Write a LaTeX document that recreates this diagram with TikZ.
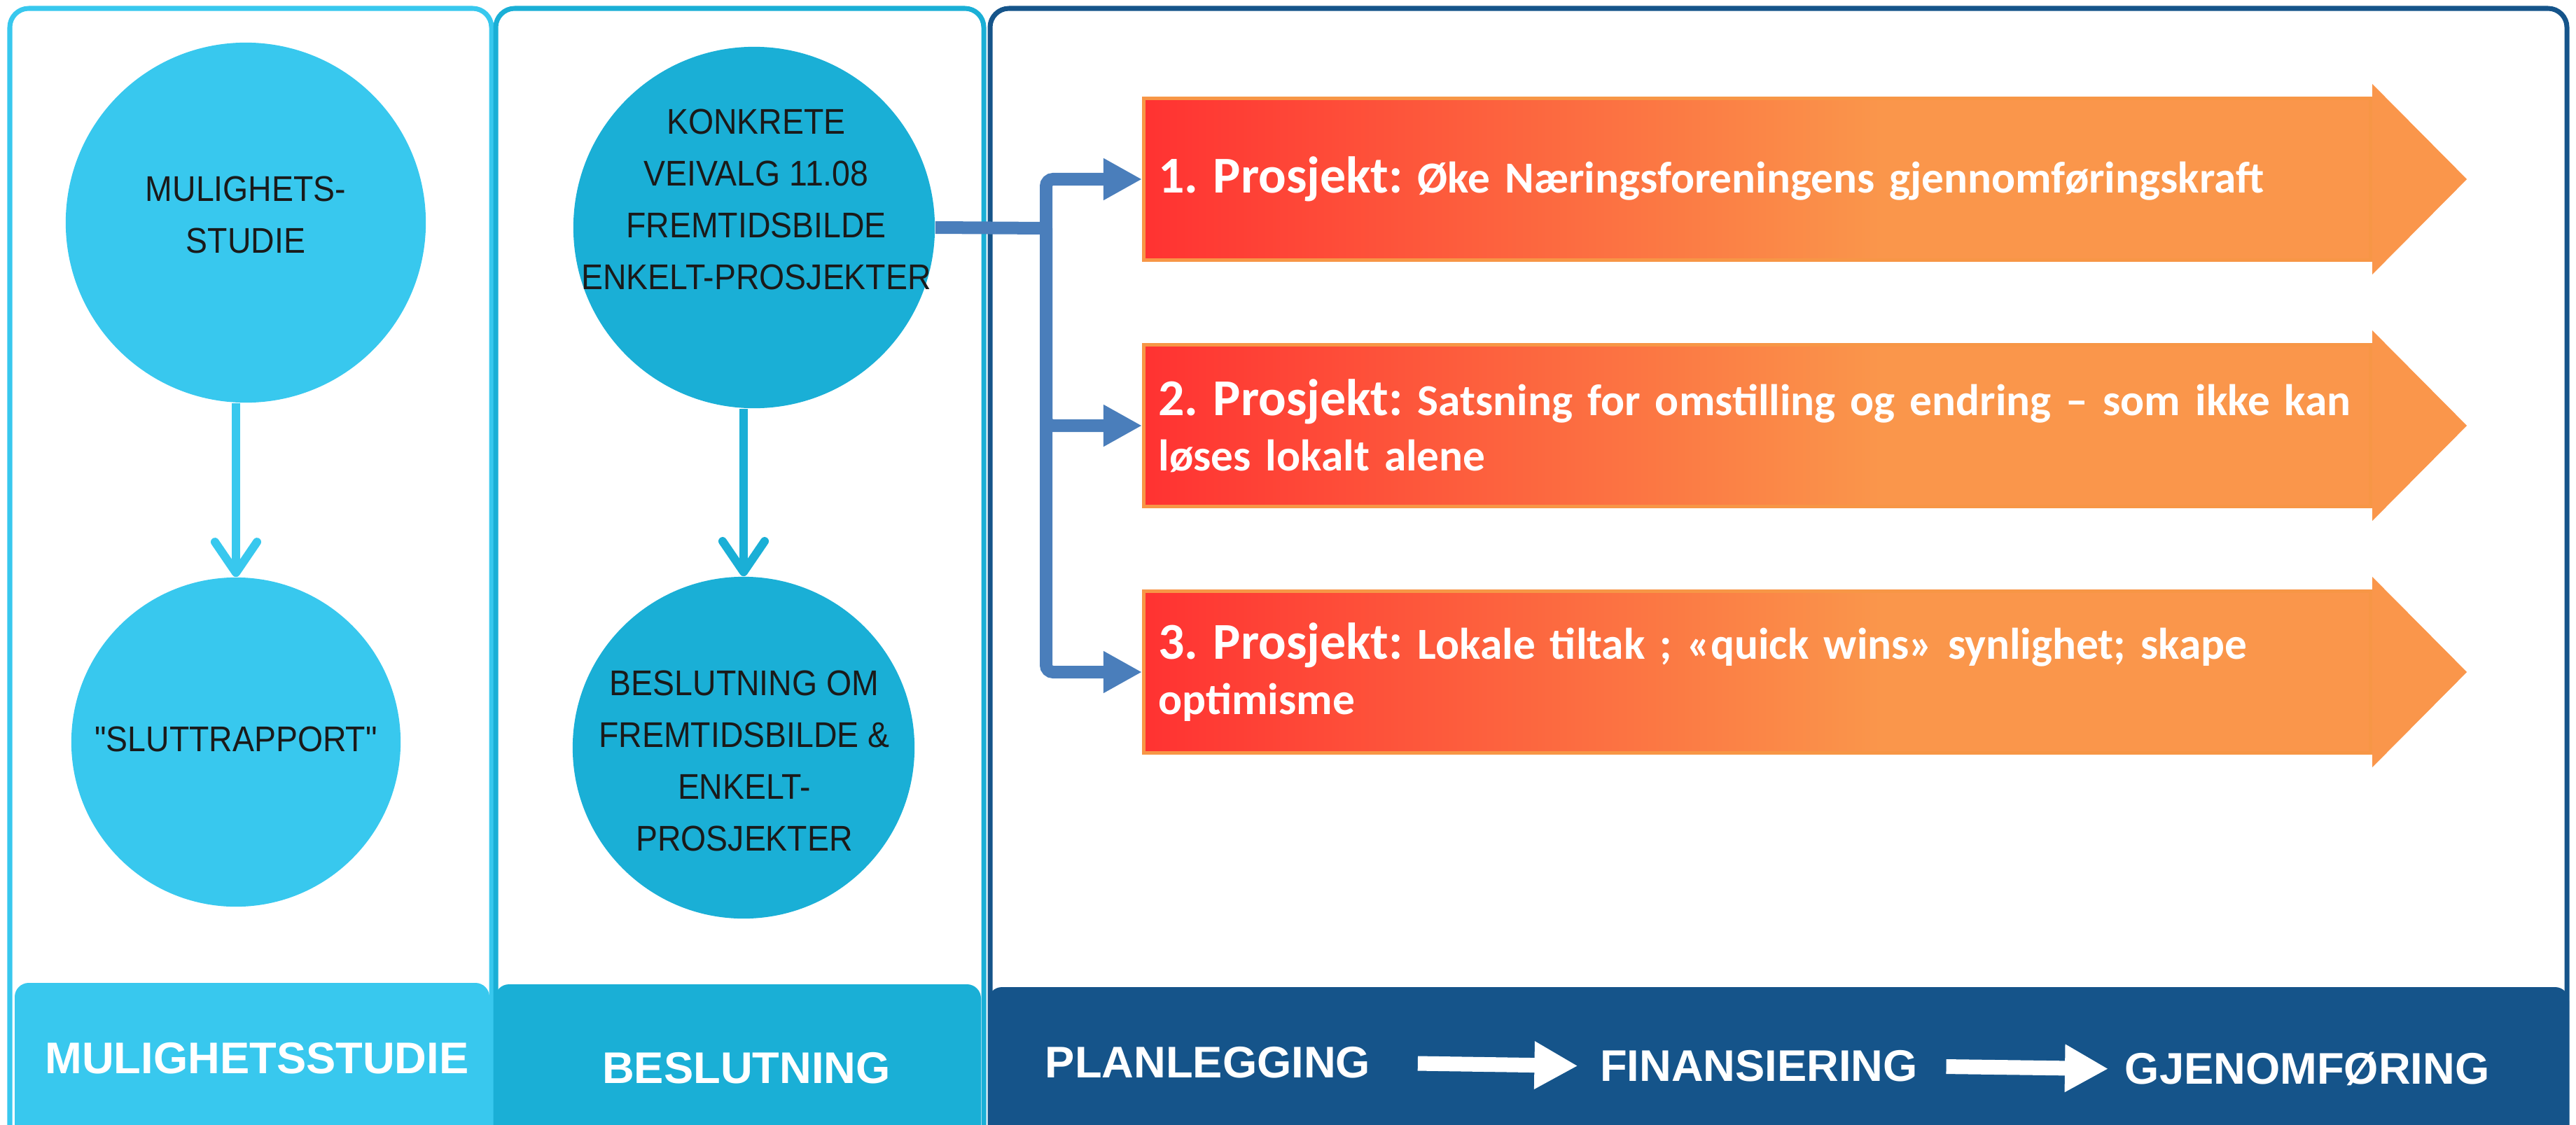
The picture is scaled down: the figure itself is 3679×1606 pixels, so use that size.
\documentclass[tikz,border=0pt]{standalone}
\usepackage{fontspec}
\usepackage{xcolor}
\usepackage{tikz}
\usetikzlibrary{arrows.meta, positioning, calc}

\setmainfont{Liberation Sans}
\newfontfamily\bubblefont[FakeStretch=0.91]{Liberation Sans}
\newfontfamily\prfont{Carlito}

\definecolor{lightc}{HTML}{38C8EE}
\definecolor{midc}{HTML}{1AAFD6}
\definecolor{darkc}{HTML}{15548A}
\definecolor{linkc}{HTML}{4A7EBB}
\definecolor{prred}{HTML}{FF3232}
\definecolor{prorange}{HTML}{FA964B}
\definecolor{prline}{HTML}{F79646}
\definecolor{textc}{HTML}{1A1A1A}

\pgfdeclarehorizontalshading{prosjshade}{100bp}{color(0bp)=(prred); color(25bp)=(prred); color(55bp)=(prorange); color(100bp)=(prorange)}

\begin{document}
\begin{tikzpicture}[x=0.01cm, y=-0.01cm,
	panel/.style={line width=0.07cm, rounded corners=0.27cm},
	bubble/.style={circle, inner sep=0pt},
	bubbletext/.style={align=center, text=textc, inner sep=0pt, font=\bubblefont\fontsize{14.5}{21}\selectfont},
	down/.style={line width=0.12cm, -{Straight Barb[length=4.4mm, width=6mm, round]}},
	link/.style={draw=linkc, line width=0.18cm, rounded corners=0.1cm},
	prbody/.style={rectangle, draw=prline, line width=0.05cm, shade, shading=prosjshade,
		minimum width=17.51cm, minimum height=2.31cm, text width=17.09cm,
		inner xsep=0.21cm, inner ysep=0pt, align=left, text=white,
		font=\prfont\bfseries\fontsize{18}{22.5}\selectfont\frenchspacing},
	bartext/.style={text=white, inner sep=0pt, font=\bfseries\fontsize{18}{21.6}\selectfont},
	flow/.style={draw=white, line width=0.21cm, -{Triangle[length=6.2mm, width=6.4mm]}}]

	\useasboundingbox (0,0) rectangle (3679,1606);
	\clip (0,0) rectangle (3679,1606);

	% Panels
	\draw[panel, lightc] (14,12) rectangle (702,1700);
	\draw[panel, midc] (708,12) rectangle (1405,1700);
	\draw[panel, darkc] (1414,12) rectangle (3666,1700);

	% Bottom bars
	\fill[lightc, rounded corners=0.2cm] (21,1404) rectangle (699,1700);
	\fill[midc, rounded corners=0.2cm] (707,1406) rectangle (1401,1700);
	\fill[darkc, rounded corners=0.2cm] (1411,1410) rectangle (3669,1700);

	\node[bartext] (lblmulig) at (367,1512) {MULIGHETSSTUDIE};
	\node[bartext] (lblbeslut) at (1066,1526) {BESLUTNING};
	\node[bartext] (planl) at (1725,1518) {PLANLEGGING};
	\node[bartext] (finans) at (2512,1523) {FINANSIERING};
	\node[bartext] (gjenn) at (3295,1527) {GJENOMFØRING};

	\draw[flow, shorten <=0.67cm, shorten >=0.31cm] (planl.east) -- (finans.west);
	\draw[flow, shorten <=0.4cm, shorten >=0.23cm] (finans.east) -- (gjenn.west);

	% Mulighetsstudie
	\node[bubble, fill=lightc, minimum size=5.14cm] (mulig) at (351,318) {};
	\node[bubbletext] (muligtxt) at (351,307) {MULIGHETS-\\STUDIE};

	\node[bubble, fill=lightc, minimum size=4.7cm] (slutt) at (337,1060) {};
	\node[bubbletext] (slutttxt) at (337,1056) {"SLUTTRAPPORT"};

	\draw[down, lightc] (mulig.south -| slutt.north) -- (slutt.north);

	% Beslutning
	\node[bubble, fill=midc, minimum size=5.16cm] (konkrete) at (1077,325) {};
	\node[bubbletext] (konkretetxt) at (1080,285) {KONKRETE\\VEIVALG 11.08\\FREMTIDSBILDE\\ENKELT-PROSJEKTER};

	\node[bubble, fill=midc, minimum size=4.88cm] (beslut) at (1062,1068) {};
	\node[bubbletext] (beslutxt) at (1063,1087) {BESLUTNING OM\\FREMTIDSBILDE \&\\ENKELT-\\PROSJEKTER};

	\draw[down, midc] (konkrete.south -| beslut.north) -- (beslut.north);

	% Prosjekter
	\node[prbody] (pr1) at (2509.5,256) {{\fontsize{21}{22.5}\selectfont 1. Prosjekt:} Øke Næringsforeningens gjennomføringskraft};
	\node[prbody] (pr2) at (2509.5,608) {{\fontsize{21}{22.5}\selectfont 2. Prosjekt:} Satsning for omstilling og endring – som ikke kan\\løses lokalt alene};
	\node[prbody] (pr3) at (2509.5,960) {{\fontsize{21}{22.5}\selectfont 3. Prosjekt:} Lokale tiltak ; «quick wins» synlighet; skape\\optimisme};

	\fill[prorange] (pr1.north east) -- ([yshift=0.18cm]pr1.north east) -- ([xshift=1.35cm]pr1.east) -- ([yshift=-0.18cm]pr1.south east) -- (pr1.south east) -- cycle;
	\fill[prorange] (pr2.north east) -- ([yshift=0.18cm]pr2.north east) -- ([xshift=1.35cm]pr2.east) -- ([yshift=-0.18cm]pr2.south east) -- (pr2.south east) -- cycle;
	\fill[prorange] (pr3.north east) -- ([yshift=0.18cm]pr3.north east) -- ([xshift=1.35cm]pr3.east) -- ([yshift=-0.18cm]pr3.south east) -- (pr3.south east) -- cycle;

	% Links to prosjekter
	\coordinate (split) at (1494,326);
	\draw[link] (konkrete.east) -- (split);
	\draw[link, -{Triangle[length=5.5mm, width=5.6mm]}] (split) |- (pr1.west);
	\draw[link, -{Triangle[length=5.5mm, width=5.6mm]}] (split) |- (pr2.west);
	\draw[link, -{Triangle[length=5.5mm, width=5.6mm]}] (split) |- (pr3.west);

\end{tikzpicture}
\end{document}
